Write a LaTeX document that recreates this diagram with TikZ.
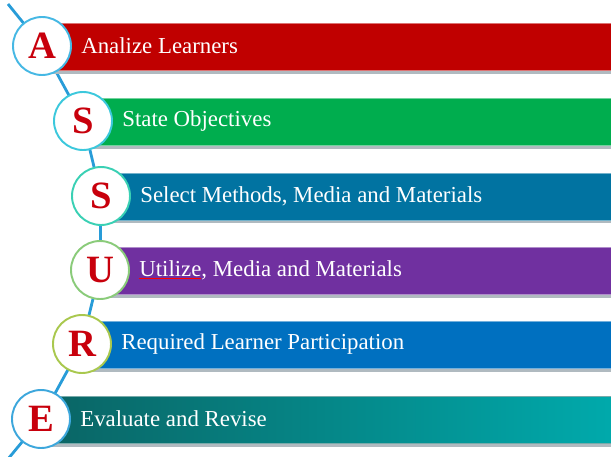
\documentclass[tikz,border=0pt]{standalone}
\usepackage{fontspec}
\setmainfont{Liberation Serif}
\usepackage{xcolor}
\usetikzlibrary{positioning, backgrounds, shadows}
\definecolor{letterred}{RGB}{200, 0, 12}
\definecolor{spineblue}{RGB}{40, 156, 216}
\definecolor{barred}{RGB}{192, 0, 0}
\definecolor{bargreen}{RGB}{0, 173, 78}
\definecolor{barsea}{RGB}{1, 115, 161}
\definecolor{barpurple}{RGB}{112, 48, 160}
\definecolor{barblue}{RGB}{0, 112, 192}
\definecolor{bartealdark}{RGB}{10, 100, 100}
\definecolor{barteallight}{RGB}{0, 170, 172}
\definecolor{ringA}{RGB}{70, 184, 228}
\definecolor{ringS}{RGB}{60, 200, 220}
\definecolor{ringSS}{RGB}{58, 208, 180}
\definecolor{ringU}{RGB}{138, 203, 122}
\definecolor{ringR}{RGB}{169, 200, 78}
\definecolor{ringE}{RGB}{61, 167, 220}
\definecolor{shadowgray}{RGB}{176, 186, 192}

\begin{document}
\begin{tikzpicture}[x=0.02cm, y=-0.02cm,
  letter/.style={circle, fill=white, line width=1.1pt, minimum size=11.6mm,
    inner sep=0pt, text=letterred, font=\fontsize{22}{22}\selectfont\bfseries},
  bar/.style={rectangle, anchor=west, minimum height=9.4mm, inner sep=0pt,
    line width=0.5pt, drop shadow={shadow xshift=0pt, shadow yshift=-0.7mm,
    fill=shadowgray, opacity=1}},
  bartext/.style={inner sep=0pt, text=white, font=\fontsize{13}{15}\selectfont},
  spine/.style={line width=1.6pt, draw=spineblue}
]
  \useasboundingbox (0,0) rectangle (611,456);

  \node[letter, draw=ringA] (circA) at (42,46) {A};
  \node[letter, draw=ringS] (circS) at (83,121) {S};
  \node[letter, draw=ringSS] (circSS) at (101,196) {S};
  \node[letter, draw=ringU] (circU) at (100,270) {U};
  \node[letter, draw=ringR] (circR) at (82,344) {R};
  \node[letter, draw=ringE] (circE) at (41,419) {E};

  \node[bartext, right=1.8mm of circA] (textA) {Analize Learners};
  \node[bartext, right=1.8mm of circS] (textS) {State Objectives};
  \node[bartext, right=1.8mm of circSS] (textSS) {Select Methods, Media and Materials};
  \node[bartext, right=1.8mm of circU] (textU)
    {{\color{red}$\underline{\hbox{\color{white}Utilize}}$}, Media and Materials};
  \node[bartext, right=1.8mm of circR] (textR) {Required Learner Participation};
  \node[bartext, right=1.8mm of circE] (textE) {Evaluate and Revise};

  \coordinate (spinetop) at (8,4);
  \coordinate (spinebottom) at (8,459);

  \begin{scope}[on background layer]
    \draw[spine] (spinetop) -- (circA.center) -- (circS.center)
      -- (circSS.center) -- (circU.center) -- (circR.center)
      -- (circE.center) -- (spinebottom);
    \node[bar, fill=barred, draw=barred!55!white, minimum width=11.5cm] (barA) at (42,47) {};
    \node[bar, fill=bargreen, draw=bargreen!55!white, minimum width=10.7cm] (barS) at (83,122) {};
    \node[bar, fill=barsea, draw=barsea!55!white, minimum width=10.3cm] (barSS) at (101,196.5) {};
    \node[bar, fill=barpurple, draw=barpurple!55!white, minimum width=10.3cm] (barU) at (100,271) {};
    \node[bar, fill=barblue, draw=barblue!55!white, minimum width=10.7cm] (barR) at (82,345) {};
    \node[bar, left color=bartealdark, right color=barteallight,
      draw=bartealdark!55!white, minimum width=11.5cm] (barE) at (41,420) {};
  \end{scope}
\end{tikzpicture}
\end{document}
